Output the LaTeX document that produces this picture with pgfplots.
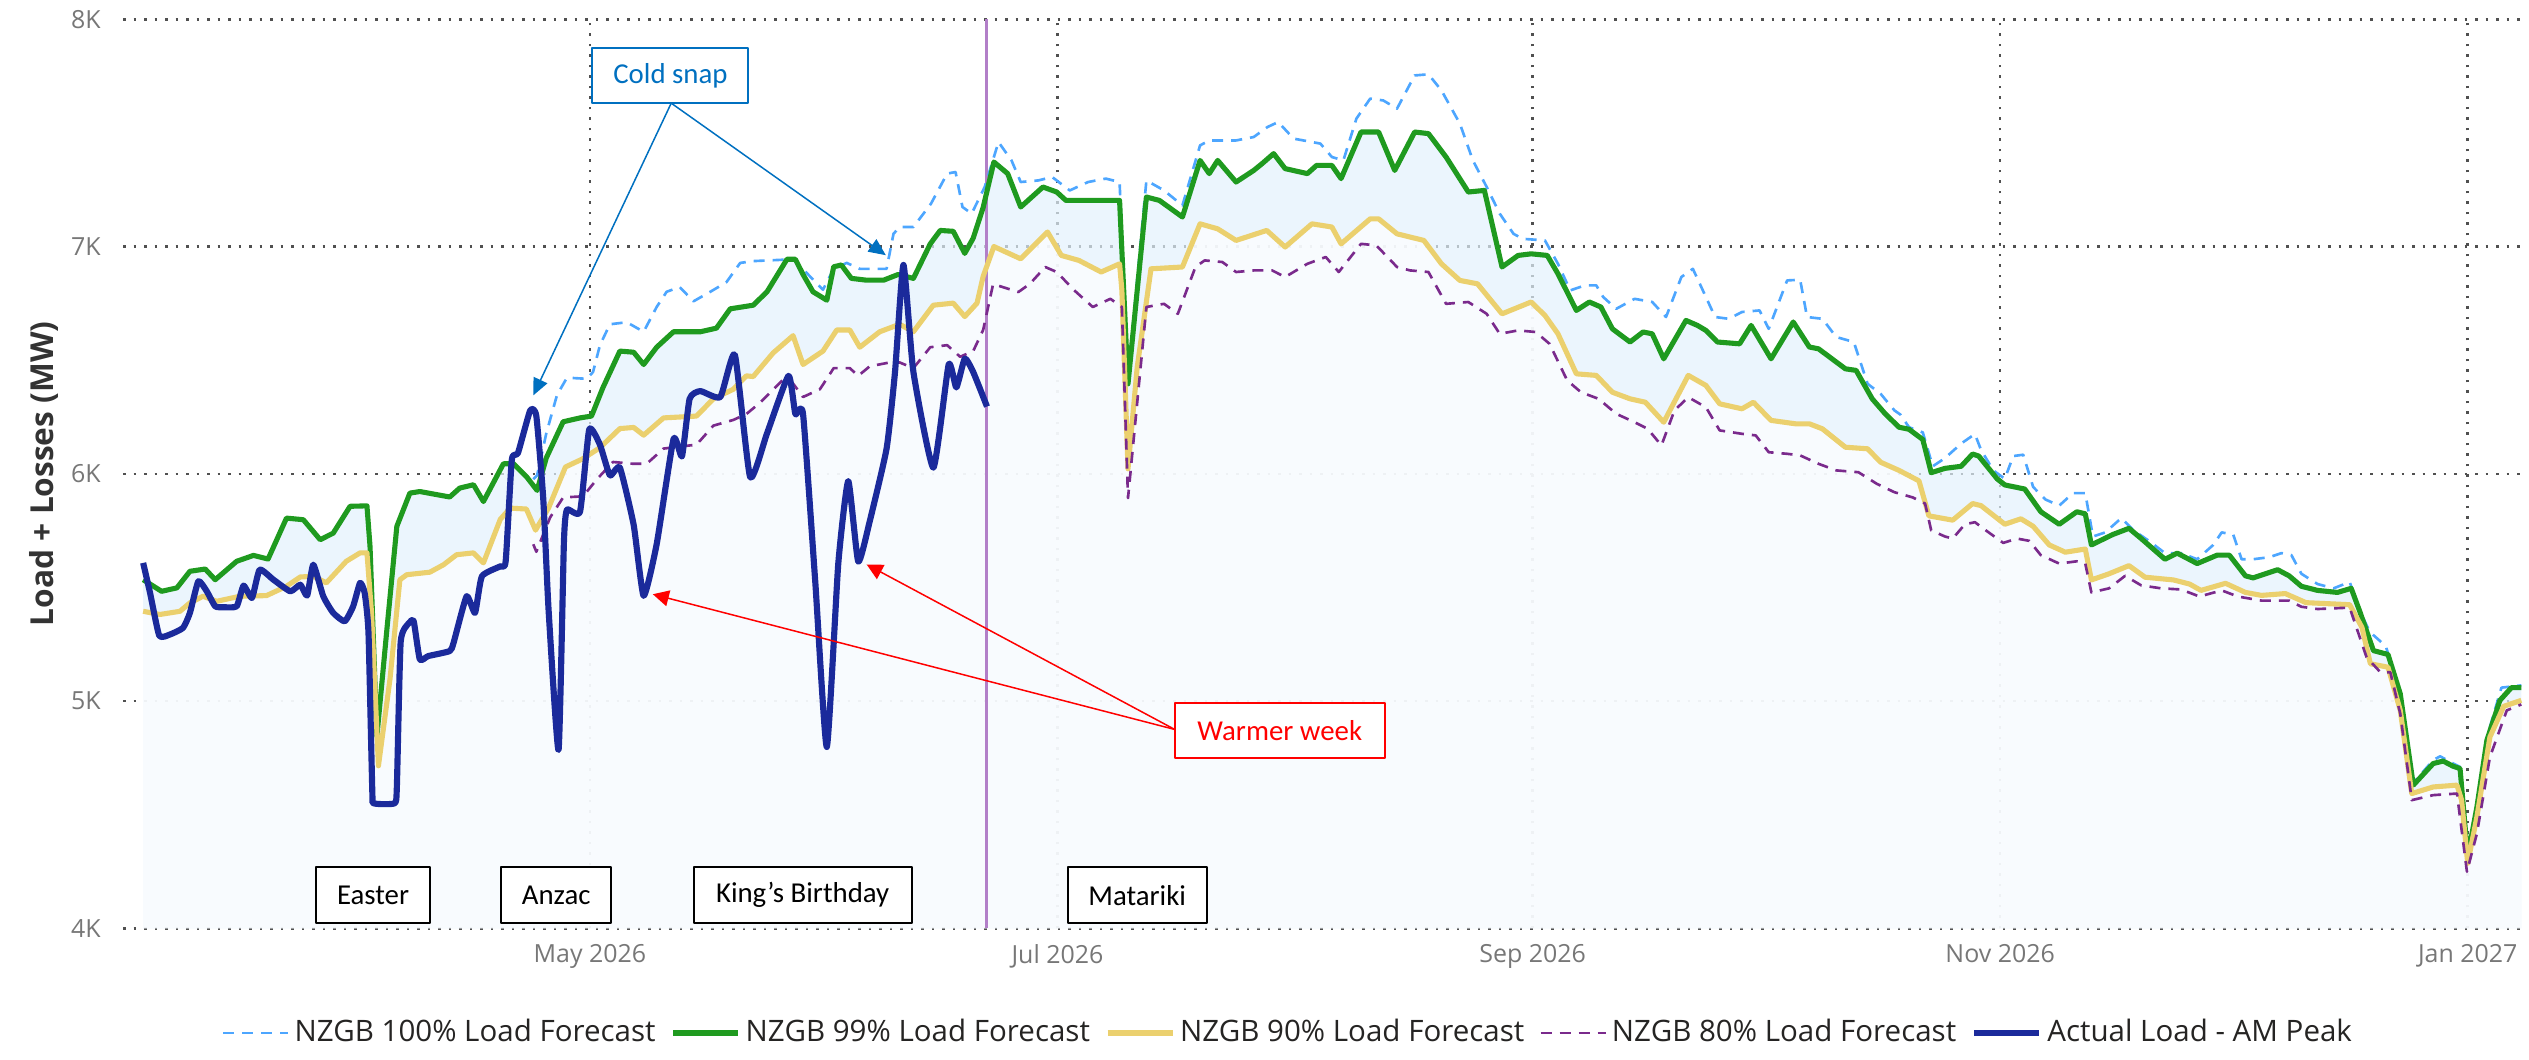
\documentclass[border=0pt]{standalone}
\usepackage{fontspec}
\setmainfont{Open Sans}
\newfontfamily\calib{Carlito}
\usepackage{pgfplots}
\usepackage{pgfplotstable}
\pgfplotsset{compat=1.18}
\usetikzlibrary{arrows.meta}

\definecolor{c100}{HTML}{4DA6FF}
\definecolor{c99}{HTML}{1F9A1F}
\definecolor{c90}{HTML}{EBD06E}
\definecolor{c80}{HTML}{7A2A8C}
\definecolor{cact}{HTML}{1B2A9B}
\definecolor{fillblue}{HTML}{E2F1FC}
\definecolor{fillwhite}{HTML}{FCFDFF}
\definecolor{vline}{HTML}{B27FC8}
\definecolor{gridc}{HTML}{505050}
\definecolor{tickc}{HTML}{777777}
\definecolor{annblue}{HTML}{0070C0}
\definecolor{legtext}{HTML}{252423}

% x = day of year 2026 (0 = 1 Jan 2026), y = MW
\pgfplotstableread{
x y
61.7 5534
64.1 5483
66.1 5498
67.8 5571
69.8 5581
71.1 5534
73.9 5615
76.1 5641
78.0 5625
80.4 5805
82.6 5798
84.8 5710
86.5 5739
88.7 5857
90.9 5859
91.3 5681
92.2 4846
93.5 5315
94.8 5769
96.5 5915
97.8 5922
101.7 5898
103.0 5937
104.8 5952
106.1 5878
108.7 6044
110.0 6045
111.7 5988
113.1 5927
114.3 6070
116.5 6229
118.7 6246
120.2 6254
121.7 6380
123.9 6540
125.7 6535
127.0 6481
128.7 6557
130.9 6625
134.4 6625
136.5 6641
138.3 6726
141.3 6742
143.1 6801
145.7 6944
146.8 6944
147.8 6877
149.1 6801
150.9 6764
151.8 6911
152.8 6919
154.1 6860
156.1 6852
158.3 6852
160.2 6877
162.2 6860
164.4 7012
165.7 7071
167.4 7067
168.9 6970
170.0 7037
171.3 7172
172.7 7372
174.5 7321
176.2 7174
179.1 7262
180.9 7240
182.1 7203
189.1 7203
190.2 6396
192.6 7218
194.3 7203
197.3 7130
199.6 7379
200.8 7321
201.9 7379
204.3 7284
206.6 7335
207.7 7365
209.2 7409
210.7 7343
213.6 7321
214.8 7357
216.8 7357
218.0 7299
220.6 7504
222.9 7504
225.0 7335
227.6 7504
229.4 7497
231.7 7394
234.6 7240
236.7 7247
239.0 6910
241.1 6961
242.8 6968
244.9 6961
246.3 6880
248.7 6719
250.4 6756
251.9 6734
253.4 6638
255.7 6580
257.4 6624
258.6 6616
260.1 6506
263.0 6675
264.5 6653
265.6 6631
267.1 6580
270.0 6572
271.5 6653
274.1 6506
277.0 6668
279.1 6558
280.3 6550
283.8 6462
285.2 6455
287.3 6330
289.0 6264
290.8 6205
292.1 6196
293.9 6151
295.0 6005
296.8 6024
298.9 6033
300.4 6087
301.2 6078
303.6 5978
304.6 5951
307.2 5933
309.3 5833
311.7 5778
314.0 5833
315.1 5824
315.9 5687
318.7 5733
320.8 5760
322.4 5715
325.5 5624
327.1 5651
329.7 5605
332.3 5642
333.9 5642
336.0 5551
337.0 5542
340.2 5578
341.7 5551
343.3 5505
345.4 5487
348.0 5478
349.8 5496
350.9 5396
352.7 5222
354.6 5205
356.2 5032
357.9 4630
360.5 4725
361.8 4736
363.1 4713
364.0 4703
365.0 4315
366.2 4534
367.5 4827
369.2 5003
370.7 5059
372.0 5059
}\tgreen

\pgfplotstableread{
x y
61.7 5395
63.9 5381
66.5 5395
67.8 5432
69.5 5461
71.3 5439
74.3 5461
77.8 5464
80.4 5505
82.2 5546
83.9 5549
85.6 5520
88.2 5615
90.0 5652
90.9 5652
91.5 5388
92.4 4715
93.9 5095
95.2 5534
96.1 5556
99.1 5567
100.9 5600
102.6 5644
104.8 5652
106.1 5608
108.3 5800
109.6 5849
111.7 5845
112.9 5752
114.6 5850
116.8 6030
119.0 6065
121.3 6115
123.9 6199
125.7 6204
127.0 6170
129.6 6246
133.9 6254
136.1 6330
138.7 6372
140.4 6431
141.3 6428
143.9 6532
146.5 6608
147.8 6481
150.4 6540
152.2 6633
153.9 6633
155.2 6557
157.8 6625
160.4 6658
162.2 6625
164.8 6742
167.4 6751
168.9 6692
170.5 6751
171.3 6869
172.7 7000
176.2 6946
179.7 7064
181.5 6961
183.8 6939
186.7 6888
189.1 6924
189.4 6807
190.2 6022
191.4 6469
193.2 6902
197.3 6910
199.6 7100
201.9 7078
204.3 7027
208.3 7071
210.7 6998
214.2 7100
216.8 7086
218.0 7012
221.8 7122
222.9 7122
225.3 7056
228.8 7027
231.1 6924
233.5 6851
235.8 6836
239.0 6704
242.8 6756
244.6 6697
246.3 6616
248.7 6440
251.3 6433
253.4 6359
255.7 6330
257.7 6315
260.1 6227
263.3 6433
265.6 6389
267.4 6308
270.3 6286
271.8 6315
274.1 6235
277.3 6220
279.1 6220
280.8 6198
283.8 6117
286.7 6110
288.4 6051
290.8 6015
293.4 5969
294.7 5815
297.8 5796
300.4 5869
301.5 5860
304.6 5778
306.7 5802
308.3 5769
310.4 5687
312.5 5655
315.1 5669
315.9 5533
318.2 5560
320.8 5596
322.9 5545
326.6 5533
328.7 5515
330.2 5487
333.4 5518
336.0 5478
338.1 5465
341.2 5473
343.9 5433
349.6 5424
351.2 5324
352.3 5164
354.6 5149
356.2 4959
357.7 4593
360.5 4622
363.6 4630
364.2 4564
365.0 4286
366.2 4491
367.9 4842
369.7 4977
372.0 5003
}\tyellow

\pgfplotstableread{
x y
112.6 5976
113.1 5993
114.3 6178
115.7 6347
117.0 6423
119.6 6418
120.4 6448
121.3 6566
122.6 6658
124.8 6667
127.0 6625
128.7 6734
130.0 6801
131.7 6822
133.5 6759
135.7 6801
137.8 6843
139.6 6928
141.3 6936
146.5 6944
148.7 6869
150.4 6810
151.8 6902
153.5 6928
155.2 6902
158.7 6902
159.6 7056
160.4 7086
162.2 7086
164.5 7189
166.6 7321
167.7 7328
168.6 7174
169.8 7145
171.5 7262
173.3 7460
175.0 7379
176.2 7284
178.5 7291
180.3 7306
182.6 7247
185.0 7284
187.3 7299
189.1 7284
190.2 6420
192.6 7291
194.9 7247
197.3 7181
199.6 7445
200.8 7467
204.3 7467
206.6 7482
208.4 7526
209.8 7548
211.8 7475
214.2 7460
215.3 7453
216.8 7394
218.3 7379
220.0 7563
221.8 7651
223.5 7643
225.3 7607
227.6 7753
229.4 7758
231.1 7687
233.5 7541
235.2 7379
237.0 7262
238.7 7145
240.5 7056
241.7 7034
244.6 7027
246.3 6924
247.9 6807
249.8 6829
251.3 6829
252.2 6778
253.9 6726
256.3 6770
258.6 6756
260.4 6690
262.4 6866
263.9 6902
265.0 6822
266.8 6690
268.6 6682
270.3 6712
272.6 6719
273.8 6638
276.2 6851
277.9 6854
278.8 6690
280.8 6682
282.6 6602
284.9 6580
286.7 6396
288.4 6352
290.2 6279
291.0 6260
292.1 6205
293.9 6182
295.2 6033
296.8 6069
298.9 6133
300.7 6175
301.5 6105
303.1 6015
304.6 5978
305.7 6078
307.0 6084
308.3 5942
309.9 5887
311.7 5860
313.5 5915
315.1 5915
316.1 5724
317.7 5742
319.8 5805
321.4 5751
323.4 5705
325.5 5651
327.6 5651
329.7 5624
331.8 5687
332.9 5742
334.4 5733
335.5 5624
337.0 5624
339.1 5633
340.7 5651
342.0 5642
343.3 5560
345.4 5515
347.5 5496
349.6 5524
350.9 5400
352.2 5305
354.3 5242
356.2 5040
357.9 4640
360.5 4740
361.4 4757
363.1 4725
364.0 4710
365.0 4320
366.2 4540
367.5 4840
369.4 5059
372.0 5069
}\tblue

\pgfplotstableread{
x y
112.6 5690
113.0 5657
114.8 5808
116.5 5896
119.1 5901
120.9 5976
123.0 6052
125.7 6044
127.4 6044
129.6 6111
131.7 6120
133.9 6128
136.1 6212
138.7 6237
140.4 6263
142.2 6313
145.2 6414
146.5 6397
147.8 6338
150.0 6372
151.8 6465
153.9 6465
155.0 6431
156.5 6473
159.1 6490
160.4 6490
162.2 6465
164.4 6557
166.6 6566
168.3 6515
170.0 6540
171.3 6633
172.6 6835
175.9 6800
177.4 6836
179.4 6910
180.9 6888
183.2 6807
185.6 6734
187.9 6770
189.4 6734
190.2 5893
192.6 6734
194.9 6748
196.7 6704
199.0 6910
200.2 6939
202.5 6932
204.3 6888
206.6 6895
209.0 6895
210.7 6866
213.6 6924
216.0 6954
217.7 6888
220.6 7012
222.6 7005
225.3 6910
227.0 6895
229.4 6888
231.7 6748
234.6 6756
237.0 6704
238.7 6616
241.1 6631
243.4 6624
245.2 6572
247.5 6411
249.3 6359
251.6 6330
253.9 6264
256.3 6227
258.0 6198
259.8 6125
261.5 6279
263.3 6337
265.6 6293
267.4 6191
270.3 6176
272.1 6169
273.8 6095
276.2 6088
277.9 6081
280.3 6044
282.6 6015
285.5 6007
287.9 5956
290.2 5919
292.6 5896
294.2 5869
295.0 5751
296.8 5724
297.8 5715
299.4 5778
300.7 5787
302.5 5742
304.4 5696
306.2 5715
307.8 5705
309.3 5642
311.7 5605
314.0 5615
315.1 5605
315.9 5478
318.2 5496
320.3 5551
322.4 5509
325.0 5496
327.6 5491
330.0 5460
332.9 5487
335.0 5460
338.1 5442
341.7 5442
343.3 5415
345.4 5405
349.6 5411
351.8 5193
353.6 5127
354.9 5127
356.2 4944
357.7 4564
360.5 4586
363.6 4593
364.9 4249
366.2 4417
367.9 4754
370.1 4959
372.0 4985
}\tpurple

\pgfplotstableread{
x y
61.7 5608
62.6 5476
63.8 5288
65.2 5293
66.9 5322
67.8 5388
68.9 5527
70.0 5483
71.1 5417
72.2 5413
73.9 5417
74.8 5508
75.9 5454
76.9 5578
78.7 5534
80.9 5483
82.2 5512
83.1 5464
83.9 5600
85.2 5461
86.5 5388
88.0 5351
89.1 5417
90.0 5520
90.6 5476
91.1 5300
91.6 4600
91.8 4550
94.5 4550
94.8 4620
95.3 5260
96.4 5344
97.0 5351
97.8 5183
98.9 5198
101.7 5220
102.2 5256
103.9 5461
105.0 5388
105.9 5549
108.3 5593
109.0 5615
109.8 6061
110.6 6091
112.2 6279
113.0 6254
113.9 5892
114.6 5400
115.9 4785
116.6 5700
117.0 5842
118.7 5833
119.9 6195
121.3 6128
122.6 5993
123.9 6027
125.7 5775
127.0 5463
128.7 5690
130.9 6153
132.0 6077
133.0 6330
134.4 6364
137.0 6338
138.9 6524
140.9 5985
143.1 6178
145.9 6431
146.8 6263
147.8 6263
149.4 5522
150.9 4798
152.4 5606
153.7 5968
155.0 5614
156.5 5791
158.7 6111
159.8 6448
160.9 6919
162.2 6448
164.8 6027
166.8 6481
167.8 6380
168.9 6507
170.0 6448
171.8 6296
}\tactual

\begin{document}
\begin{tikzpicture}
\useasboundingbox (0,0) rectangle (252.9mm,105.9mm);
\begin{axis}[
  at={(12.3mm,13.07mm)}, anchor=south west,
  width=240.4mm, height=90.9mm, scale only axis,
  xmin=59.07, xmax=372.74, ymin=4000, ymax=8000,
  axis line style={draw=none},
  major tick length=0pt,
  xtick={120,181,243,304,365},
  xticklabels={May 2026,Jul 2026,Sep 2026,Nov 2026,Jan 2027},
  ytick={4000,5000,6000,7000,8000},
  yticklabels={4K,5K,6K,7K,8K},
  grid=major,
  major grid style={gridc, line width=0.25mm, dash pattern=on 0.25mm off 0.8mm},
  tick label style={font=\fontsize{7.1}{8}\selectfont, text=tickc},
  xticklabel style={yshift=-0.4mm},
  yticklabel style={xshift=-1mm},
  ylabel={Load + Losses (MW)},
  ylabel style={at={(axis description cs:-0.03307,0.5)}, anchor=center,
    font=\bfseries\fontsize{9}{10}\selectfont, text=black!80},
  legend style={at={(axis description cs:0.4852,-0.1152)}, anchor=center,
    draw=none, fill=none, font=\fontsize{8.4}{10}\selectfont, text=legtext,
    nodes={inner sep=0.5mm},
    /tikz/every even column/.append style={column sep=1mm}},
  legend columns=5,
  legend image code/.code={\draw[#1] (0mm,0mm) -- (6.5mm,0mm);},
  line join=round,
]
% shaded areas under the 99% and 90% forecasts
\addplot[draw=none, fill=fillblue, fill opacity=0.7, forget plot] table {\tgreen} \closedcycle;
\addplot[draw=none, fill=fillwhite, fill opacity=0.8, forget plot] table {\tyellow} \closedcycle;

% today marker
\draw[vline, line width=0.3mm] (171.8,4000) -- (171.8,8000);

\addplot[c100, line width=0.75pt, dash pattern=on 1.1mm off 0.8mm] table {\tblue};
\addlegendentry{NZGB 100\% Load Forecast}
\addplot[c99, line width=1.45pt] table {\tgreen};
\addlegendentry{NZGB 99\% Load Forecast}
\addplot[c90, line width=1.45pt] table {\tyellow};
\addlegendentry{NZGB 90\% Load Forecast}
\addplot[c80, line width=0.75pt, dash pattern=on 1.1mm off 0.8mm] table {\tpurple};
\addlegendentry{NZGB 80\% Load Forecast}
\addplot[cact, line width=1.75pt, smooth, tension=0.3] table {\tactual};
\addlegendentry{Actual Load - AM Peak}

% annotations
\tikzset{ann/.style={line width=0.2mm, fill=white, inner sep=0pt,
  font=\calib\fontsize{8.2}{10}\selectfont, minimum height=5.5mm}}
\node[ann, draw=annblue, text=annblue, minimum width=15.6mm] at (130.5,7751) {Cold snap};
\draw[annblue, line width=0.15mm, -{Triangle[length=1.7mm,width=1.5mm]}] (130.6,7631) -- (112.6,6345);
\draw[annblue, line width=0.15mm, -{Triangle[length=1.7mm,width=1.5mm]}] (130.6,7631) -- (158.6,6962);

\node[ann, draw=red, text=red, minimum width=21mm] at (210.0,4872) {Warmer week};
\draw[red, line width=0.15mm, -{Triangle[length=1.6mm,width=1.6mm]}] (196.3,4875) -- (128.2,5470);
\draw[red, line width=0.15mm, -{Triangle[length=1.6mm,width=1.6mm]}] (196.3,4875) -- (156.1,5601);

\node[ann, draw=black, minimum width=11.4mm, minimum height=5.6mm] at (91.7,4146) {Easter};
\node[ann, draw=black, minimum width=11mm, minimum height=5.6mm] at (115.6,4146) {Anzac};
\node[ann, draw=black, minimum width=21.8mm, minimum height=5.6mm] at (147.75,4146) {King’s Birthday};
\node[ann, draw=black, minimum width=13.9mm, minimum height=5.6mm] at (191.4,4146) {Matariki};
\end{axis}
\end{tikzpicture}
\end{document}
